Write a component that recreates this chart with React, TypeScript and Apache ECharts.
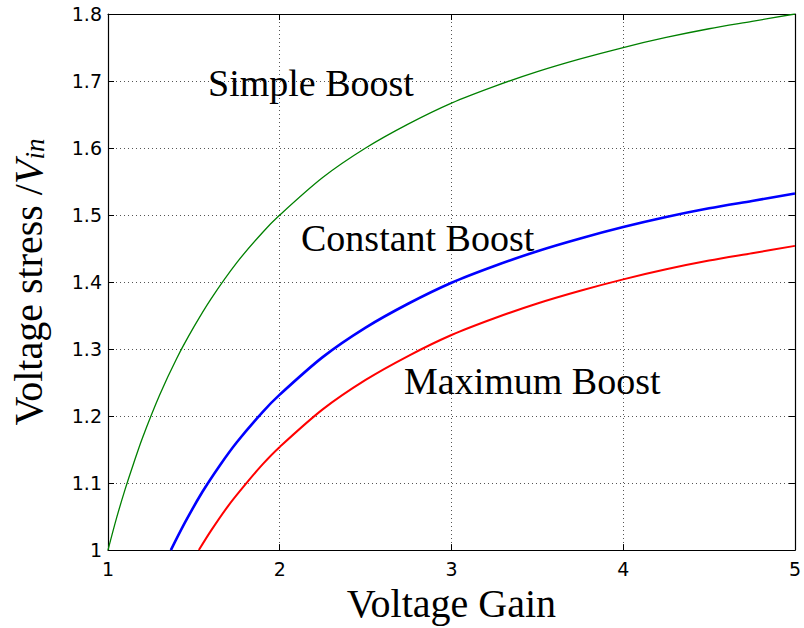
import React, { useEffect, useRef } from "react";
import * as echarts from "echarts";

// Voltage gain (x) and normalised voltage stress (y) for each control method
const gainSimple = [1, 1.05, 1.1, 1.15, 1.2, 1.3, 1.4, 1.5, 1.6, 1.75, 1.9, 2, 2.25, 2.5, 2.75, 3, 3.25, 3.5, 3.75, 4, 4.25, 4.5, 4.75, 5];
const stressSimple = [1.0, 1.048, 1.091, 1.13, 1.167, 1.231, 1.286, 1.333, 1.375, 1.429, 1.474, 1.5, 1.556, 1.6, 1.636, 1.667, 1.692, 1.714, 1.733, 1.75, 1.765, 1.778, 1.789, 1.8];

const gainConstant = [1.366, 1.45, 1.55, 1.65, 1.75, 1.9, 2, 2.25, 2.5, 2.75, 3, 3.25, 3.5, 3.75, 4, 4.25, 4.5, 4.75, 5];
const stressConstant = [1.0, 1.042, 1.087, 1.126, 1.161, 1.206, 1.232, 1.288, 1.332, 1.368, 1.399, 1.424, 1.446, 1.465, 1.482, 1.497, 1.51, 1.521, 1.532];

const gainMaximum = [1.529, 1.6, 1.7, 1.8, 1.9, 2, 2.25, 2.5, 2.75, 3, 3.25, 3.5, 3.75, 4, 4.25, 4.5, 4.75, 5];
const stressMaximum = [1.0, 1.029, 1.066, 1.098, 1.128, 1.154, 1.21, 1.254, 1.29, 1.321, 1.346, 1.368, 1.387, 1.404, 1.419, 1.432, 1.443, 1.454];

const xTicks = [1, 2, 3, 4, 5];
const yTicks = [1, 1.1, 1.2, 1.3, 1.4, 1.5, 1.6, 1.7, 1.8];

const zip = (xs: number[], ys: number[]) => xs.map((x, i) => [x, ys[i]]);

const SERIF = "'Liberation Serif', 'Times New Roman', serif";
const SANS = "'DejaVu Sans', Arial, sans-serif";

export default function App() {
  const ref = useRef<HTMLDivElement>(null);

  useEffect(() => {
    if (!ref.current) return;
    const chart = echarts.init(ref.current, null, { renderer: "svg" });

    const frame = { show: true, lineStyle: { color: "#000", width: 1.2 } };
    const innerTick = { show: true, inside: true, length: 6, lineStyle: { color: "#000", width: 1 } };
    const dotted = { show: true, lineStyle: { type: [1, 3], color: "#555", width: 1 } };
    const tickLabel = { color: "#000", fontFamily: SANS, fontSize: 19 };

    const curve = (name: string, xs: number[], ys: number[], color: string, width: number) => ({
      name,
      type: "line",
      data: zip(xs, ys),
      smooth: 0.3,
      showSymbol: false,
      lineStyle: { color, width },
      itemStyle: { color },
      z: 3,
    });

    chart.setOption({
      animation: false,
      backgroundColor: "#fff",
      grid: { left: 108, right: 8, top: 14, bottom: 73, containLabel: false },
      xAxis: [
        {
          type: "value",
          min: xTicks[0],
          max: xTicks[xTicks.length - 1],
          interval: 1,
          axisLine: frame,
          axisTick: innerTick,
          splitLine: dotted,
          axisLabel: { ...tickLabel, margin: 9 },
          name: "Voltage Gain",
          nameLocation: "middle",
          nameGap: 30,
          nameTextStyle: { fontFamily: SERIF, fontSize: 40, color: "#000" },
        },
        {
          type: "value",
          position: "top",
          min: xTicks[0],
          max: xTicks[xTicks.length - 1],
          interval: 1,
          axisLine: frame,
          axisTick: innerTick,
          axisLabel: { show: false },
          splitLine: { show: false },
        },
      ],
      yAxis: [
        {
          type: "value",
          min: yTicks[0],
          max: yTicks[yTicks.length - 1],
          interval: 0.1,
          axisLine: frame,
          axisTick: innerTick,
          splitLine: dotted,
          axisLabel: {
            ...tickLabel,
            margin: 6,
            formatter: (v: number) => (Math.abs(v - 1) < 1e-9 ? "1" : v.toFixed(1)),
          },
          name: "{a|Voltage stress /}{v|V}{s|in}",
          nameLocation: "middle",
          nameRotate: 90,
          nameGap: 60,
          nameTextStyle: {
            color: "#000",
            rich: {
              a: { fontFamily: SERIF, fontSize: 40, color: "#000", lineHeight: 44, verticalAlign: "bottom" },
              v: { fontFamily: SERIF, fontSize: 40, fontStyle: "italic", color: "#000", lineHeight: 44, verticalAlign: "bottom" },
              s: { fontFamily: SERIF, fontSize: 27, fontStyle: "italic", color: "#000", lineHeight: 30, verticalAlign: "bottom" },
            },
          },
        },
        {
          type: "value",
          position: "right",
          min: yTicks[0],
          max: yTicks[yTicks.length - 1],
          interval: 0.1,
          axisLine: frame,
          axisTick: innerTick,
          axisLabel: { show: false },
          splitLine: { show: false },
        },
      ],
      series: [
        curve("Simple Boost", gainSimple, stressSimple, "#008000", 1.3),
        curve("Constant Boost", gainConstant, stressConstant, "#0000ff", 2.6),
        curve("Maximum Boost", gainMaximum, stressMaximum, "#ff0000", 2),
      ],
      graphic: [
        {
          type: "text",
          left: 208,
          top: 64,
          style: { text: "Simple Boost", fontFamily: SERIF, fontSize: 38, fill: "#000" },
          z: 10,
        },
        {
          type: "text",
          left: 301,
          top: 219,
          style: { text: "Constant Boost", fontFamily: SERIF, fontSize: 38, fill: "#000" },
          z: 10,
        },
        {
          type: "text",
          left: 404,
          top: 362,
          style: { text: "Maximum Boost", fontFamily: SERIF, fontSize: 38, fill: "#000" },
          z: 10,
        },
      ],
    });

    return () => chart.dispose();
  }, []);

  return (
    <div
      ref={ref}
      style={{ position: "absolute", left: 0, top: 0, width: 804, height: 628 }}
    />
  );
}
